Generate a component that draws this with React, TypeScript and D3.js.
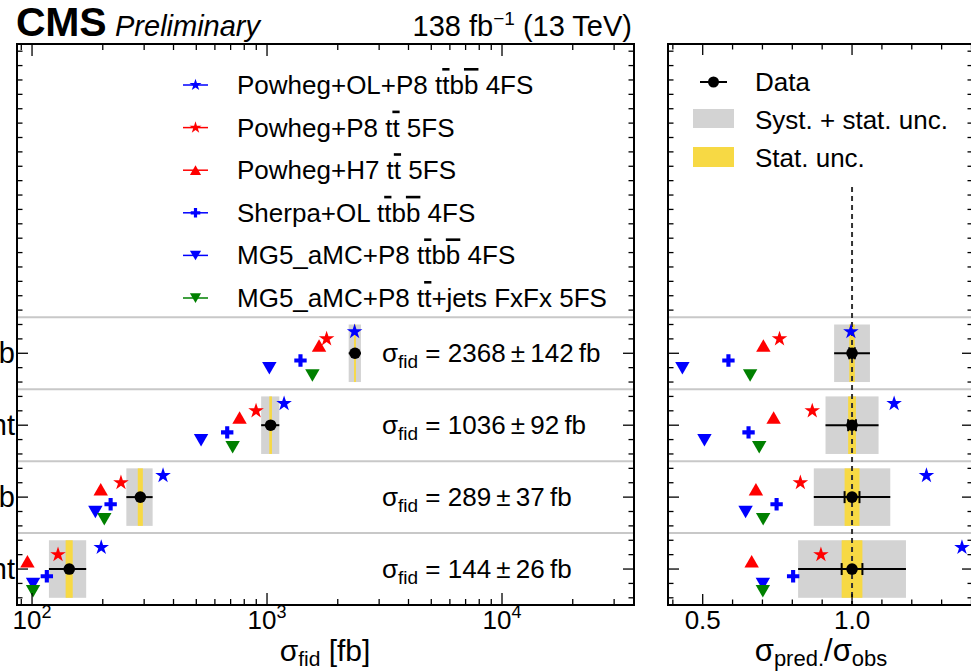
import React from 'react';
import * as d3 from 'd3';

// ---------------- data ----------------
const rowIndex = [0, 1, 2, 3];
const rowLabels = ['≥7j ≥4b, LF-jet requirement', '≥6j ≥4b', '≥6j ≥3b, LF-jet requirement', '≥5j ≥3b'];
const dataXsec = [144, 289, 1036, 2368];
const totUnc = [26, 37, 92, 142];
const statUnc = [5, 7.2, 13.5, 22];

const genNames = [
  'Powheg+OL+P8 t{t}b{b} 4FS',
  'Powheg+P8 t{t} 5FS',
  'Powheg+H7 t{t} 5FS',
  'Sherpa+OL t{t}b{b} 4FS',
  'MG5_aMC+P8 t{t}b{b} 4FS',
  'MG5_aMC+P8 t{t}+jets FxFx 5FS',
];
const powhegOLttbb = [197, 361, 1182, 2359];
const powhegP8tt = [129, 239, 898, 1793];
const powhegH7tt = [95.6, 196, 764, 1665];
const sherpaOLttbb = [115.6, 216, 677, 1388];
const mg5ttbb = [101, 186, 524, 1023];
const mg5FxFx = [101, 203, 714, 1560];
const genValues = [powhegOLttbb, powhegP8tt, powhegH7tt, sherpaOLttbb, mg5ttbb, mg5FxFx];

const xTicksLeft = [100, 1000, 10000];
const xTickExp = ['2', '3', '4'];
const xTicksRight = [0.5, 1.0];

// ---------------- styles ----------------
const genStyle = [
  { color: '#0000ff', shape: 'star', off: 0.3 },
  { color: '#ff0000', shape: 'star', off: 0.2 },
  { color: '#ff0000', shape: 'tri', off: 0.1 },
  { color: '#0000ff', shape: 'cross', off: -0.1 },
  { color: '#0000ff', shape: 'tridown', off: -0.2 },
  { color: '#008000', shape: 'tridown', off: -0.3 },
];

const FF = "'Liberation Sans', Arial, Helvetica, sans-serif";
const GRAY = '#d3d3d3';
const YELLOW = '#f7d944';
const SEP = '#c8c8c8';
const THIN = '\u2009';

const W = 971, H = 671;
const L = { x0: 17, x1: 634 };
const R = { x0: 668, x1: 973 };
const Y0 = 44, Y1 = 605;

const xL = d3.scaleLog().domain([86.3, 36450]).range([L.x0, L.x1]);
const xR = d3.scaleLinear().domain([0.3838, 1.405]).range([R.x0, R.x1]);
const y = d3.scaleLinear().domain([-0.5, 7.3]).range([Y1, Y0]);

function symPath(shape: string, scale = 1) {
  if (shape === 'star') return d3.symbol().type(d3.symbolStar).size(75 * scale)()!;
  if (shape === 'cross') return d3.symbol().type(d3.symbolCross).size(85 * scale)()!;
  return d3.symbol().type(d3.symbolTriangle).size(90 * scale)()!;
}

function Marker({ shape, color, x, yy, scale = 1 }: any) {
  const rot = shape === 'tridown' ? 180 : 0;
  const dy = shape === 'tri' ? 1.5 : shape === 'tridown' ? -1.5 : 0;
  return (
    <path d={symPath(shape, scale)} fill={color} transform={`translate(${x},${yy + dy}) rotate(${rot})`} />
  );
}

function Rich({ s }: { s: string }) {
  const parts = s.split(/(\{[^}]*\})/).filter((p) => p.length);
  return (
    <>
      {parts.map((p, i) =>
        p.startsWith('{') ? (
          <tspan key={i} style={{ textDecoration: 'overline' }}>{p.slice(1, -1)}</tspan>
        ) : (
          <tspan key={i}>{p}</tspan>
        )
      )}
    </>
  );
}

export default function App() {
  const logMinor: number[] = [];
  for (let d = 1; d <= 4; d++) for (let k = 1; k <= 9; k++) {
    const v = k * Math.pow(10, d);
    if (v >= xL.domain()[0] && v <= xL.domain()[1]) logMinor.push(v);
  }
  const linMinor = d3.range(4, 15).map((i) => i / 10).filter((v) => v >= xR.domain()[0] && v <= xR.domain()[1]);
  const yMinor = d3.range(-2, 37).map((i) => i / 5);
  const seps = [0.5, 1.5, 2.5, 3.5];

  const frame = (x0: number, x1: number) => (
    <rect x={x0} y={Y0} width={x1 - x0} height={Y1 - Y0} fill="none" stroke="#000" strokeWidth={2} />
  );

  const yTicks = (x0: number, x1: number) => (
    <g stroke="#000" strokeWidth={1.3}>
      {yMinor.map((v, i) => {
        const major = Math.abs(v - Math.round(v)) < 1e-6 && v >= 0 && v <= 3;
        const len = major ? 11 : 5.5;
        return (
          <g key={i}>
            <line x1={x0} x2={x0 + len} y1={y(v)} y2={y(v)} />
            <line x1={x1} x2={x1 - len} y1={y(v)} y2={y(v)} />
          </g>
        );
      })}
    </g>
  );

  return (
    <svg width={W} height={H} style={{ position: 'absolute', left: 0, top: 0, background: '#fff' }} fontFamily={FF}>
      <rect x={0} y={0} width={W} height={H} fill="#fff" />

      {/* header */}
      <text x={16} y={36} fontSize={41} fontWeight="bold" letterSpacing={-0.3}>CMS</text>
      <text x={115} y={36} fontSize={29} fontStyle="italic">Preliminary</text>
      <text x={632} y={36} fontSize={29} textAnchor="end">
        138 fb<tspan dy={-11} fontSize={19}>−1</tspan><tspan dy={11}> (13 TeV)</tspan>
      </text>

      {/* ---------- left panel ---------- */}
      {seps.map((s) => (
        <line key={'sl' + s} x1={L.x0} x2={L.x1} y1={y(s)} y2={y(s)} stroke={SEP} strokeWidth={2} />
      ))}
      {rowIndex.map((r) => (
        <g key={'bl' + r}>
          <rect x={xL(dataXsec[r] - totUnc[r])} width={xL(dataXsec[r] + totUnc[r]) - xL(dataXsec[r] - totUnc[r])}
            y={y(r + 0.4)} height={y(r - 0.4) - y(r + 0.4)} fill={GRAY} />
          <rect x={xL(dataXsec[r] - statUnc[r])} width={xL(dataXsec[r] + statUnc[r]) - xL(dataXsec[r] - statUnc[r])}
            y={y(r + 0.4)} height={y(r - 0.4) - y(r + 0.4)} fill={YELLOW} />
        </g>
      ))}
      {genValues.map((vals, g) =>
        vals.map((v, r) => (
          <Marker key={`pl${g}-${r}`} shape={genStyle[g].shape} color={genStyle[g].color} x={xL(v)} yy={y(r + genStyle[g].off)} />
        ))
      )}
      {rowIndex.map((r) => (
        <g key={'dl' + r} stroke="#000" strokeWidth={2}>
          <line x1={xL(dataXsec[r] - totUnc[r])} x2={xL(dataXsec[r] + totUnc[r])} y1={y(r)} y2={y(r)} />
          <circle cx={xL(dataXsec[r])} cy={y(r)} r={5.8} fill="#000" stroke="none" />
        </g>
      ))}
      {rowIndex.map((r) => (
        <text key={'ann' + r} x={382} y={y(r) + 9} fontSize={26}>
          σ<tspan dy={6} fontSize={19}>fid</tspan>
          <tspan dy={-6}>{` = ${dataXsec[r]}${THIN}±${THIN}${totUnc[r]}${THIN}fb`}</tspan>
        </text>
      ))}
      {genNames.map((n, g) => {
        const ly = 85 + g * 42.6;
        return (
          <g key={'lg' + g}>
            <line x1={183} x2={208} y1={ly} y2={ly} stroke={genStyle[g].color} strokeWidth={1.5} />
            <Marker shape={genStyle[g].shape} color={genStyle[g].color} x={195.5} yy={ly} scale={0.6} />
            <text x={237} y={ly + 9} fontSize={26}><Rich s={n} /></text>
          </g>
        );
      })}
      {frame(L.x0, L.x1)}
      <g stroke="#000" strokeWidth={1.3}>
        {logMinor.map((v, i) => {
          const major = xTicksLeft.includes(v);
          const len = major ? 12 : 6;
          return (
            <g key={'lx' + i}>
              <line x1={xL(v)} x2={xL(v)} y1={Y1} y2={Y1 - len} />
              <line x1={xL(v)} x2={xL(v)} y1={Y0} y2={Y0 + len} />
            </g>
          );
        })}
      </g>
      {yTicks(L.x0, L.x1)}
      {xTicksLeft.map((v, i) => (
        <text key={'lxt' + i} x={xL(v)} y={629} fontSize={26} textAnchor="middle">
          10<tspan dy={-11} fontSize={18}>{xTickExp[i]}</tspan>
        </text>
      ))}
      {rowIndex.map((r) => (
        <text key={'yl' + r} x={15} y={y(r) + 10} fontSize={29} textAnchor="end">{rowLabels[r]}</text>
      ))}
      <text x={325} y={661} fontSize={30} textAnchor="middle">
        σ<tspan dy={5} fontSize={21}>fid</tspan><tspan dy={-5}> [fb]</tspan>
      </text>

      {/* ---------- right panel ---------- */}
      {seps.map((s) => (
        <line key={'sr' + s} x1={R.x0} x2={R.x1} y1={y(s)} y2={y(s)} stroke={SEP} strokeWidth={2} />
      ))}
      {rowIndex.map((r) => {
        const t = totUnc[r] / dataXsec[r];
        const st = statUnc[r] / dataXsec[r];
        return (
          <g key={'br' + r}>
            <rect x={xR(1 - t)} width={xR(1 + t) - xR(1 - t)} y={y(r + 0.4)} height={y(r - 0.4) - y(r + 0.4)} fill={GRAY} />
            <rect x={xR(1 - st)} width={xR(1 + st) - xR(1 - st)} y={y(r + 0.4)} height={y(r - 0.4) - y(r + 0.4)} fill={YELLOW} />
          </g>
        );
      })}
      <line x1={xR(1)} x2={xR(1)} y1={187} y2={Y1} stroke="#333" strokeWidth={2} strokeDasharray="5,4" />
      {genValues.map((vals, g) =>
        vals.map((v, r) => (
          <Marker key={`pr${g}-${r}`} shape={genStyle[g].shape} color={genStyle[g].color} x={xR(v / dataXsec[r])} yy={y(r + genStyle[g].off)} />
        ))
      )}
      {rowIndex.map((r) => {
        const t = totUnc[r] / dataXsec[r];
        const st = statUnc[r] / dataXsec[r];
        return (
          <g key={'dr' + r} stroke="#000" strokeWidth={2}>
            <line x1={xR(1 - t)} x2={xR(1 + t)} y1={y(r)} y2={y(r)} />
            <line x1={xR(1 - st)} x2={xR(1 - st)} y1={y(r) - 6} y2={y(r) + 6} />
            <line x1={xR(1 + st)} x2={xR(1 + st)} y1={y(r) - 6} y2={y(r) + 6} />
            <circle cx={xR(1)} cy={y(r)} r={5.8} fill="#000" stroke="none" />
          </g>
        );
      })}
      <g>
        <line x1={700} x2={727} y1={82} y2={82} stroke="#000" strokeWidth={2} />
        <circle cx={713.5} cy={82} r={5.5} fill="#000" />
        <text x={755} y={91} fontSize={26}>Data</text>
        <rect x={693} y={109} width={41} height={19} fill={GRAY} />
        <text x={755} y={129} fontSize={26}>Syst. + stat. unc.</text>
        <rect x={693} y={147} width={41} height={20} fill={YELLOW} />
        <text x={755} y={167} fontSize={26}>Stat. unc.</text>
      </g>
      {frame(R.x0, R.x1)}
      <g stroke="#000" strokeWidth={1.3}>
        {linMinor.map((v, i) => {
          const major = xTicksRight.some((m) => Math.abs(m - v) < 1e-6);
          const len = major ? 11 : 5.5;
          return (
            <g key={'rx' + i}>
              <line x1={xR(v)} x2={xR(v)} y1={Y1} y2={Y1 - len} />
              <line x1={xR(v)} x2={xR(v)} y1={Y0} y2={Y0 + len} />
            </g>
          );
        })}
      </g>
      {yTicks(R.x0, R.x1)}
      {xTicksRight.map((v, i) => (
        <text key={'rxt' + i} x={xR(v)} y={629} fontSize={26} textAnchor="middle">{v.toFixed(1)}</text>
      ))}
      <text x={821} y={661} fontSize={31} textAnchor="middle">
        σ<tspan dy={5} fontSize={22}>pred.</tspan><tspan dy={-5}>/σ</tspan><tspan dy={5} fontSize={22}>obs</tspan>
      </text>
    </svg>
  );
}
